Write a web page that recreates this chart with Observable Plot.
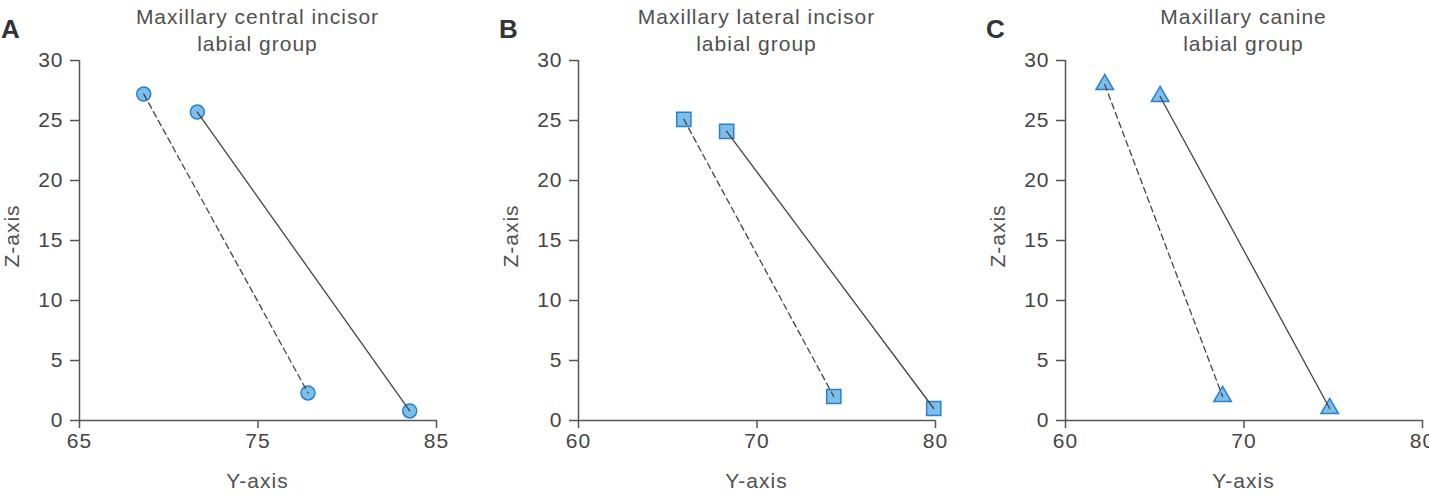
<!DOCTYPE html>
<html><head><meta charset="utf-8">
<script src="https://cdn.jsdelivr.net/npm/d3@7"></script>
<script src="https://cdn.jsdelivr.net/npm/@observablehq/plot@0.6"></script>
<style>
body{margin:0;width:1429px;height:495px;overflow:hidden;background:#fff;font-family:"Liberation Sans",Arial,sans-serif;}
#wrap{position:relative;width:1429px;height:495px;overflow:hidden;}
.panel{position:absolute;top:0;width:480px;height:495px;}
.panel svg{position:absolute;left:0;top:0;}
.panel svg text{letter-spacing:1px;}
.title{position:absolute;left:79px;width:357px;text-align:center;top:3px;font-size:21px;letter-spacing:1px;line-height:27px;color:#505050;}
.letter{position:absolute;top:14px;font-family:"Liberation Sans Narrow","Liberation Sans",Arial,sans-serif;font-weight:bold;font-size:26px;color:#333;}
.xlabel{position:absolute;left:79px;width:357px;text-align:center;top:469px;font-size:21px;letter-spacing:1px;color:#505050;}
.ylabel{position:absolute;left:-23px;top:224px;width:70px;text-align:center;font-size:21px;letter-spacing:1px;color:#505050;transform:rotate(-90deg);}
</style>
</head><body><div id="wrap"></div>
<script>
const panelLetters = ["A", "B", "C"];
const panelTitles = [["Maxillary central incisor", "labial group"], ["Maxillary lateral incisor", "labial group"], ["Maxillary canine", "labial group"]];
const xDomains = [[65, 85], [60, 80], [60, 80]];
const xTicks = [[65, 75, 85], [60, 70, 80], [60, 70, 80]];
const yTicks = [0, 5, 10, 15, 20, 25, 30];
const symbols = ["circle", "square", "triangle"];
const symbolR = [7, 8, 6.5];
const xLabel = "Y-axis";
const yLabel = "Z-axis";

const dashedY_A = [68.6, 77.8], dashedZ_A = [27.2, 2.3];
const solidY_A = [71.6, 83.5], solidZ_A = [25.7, 0.8];
const dashedY_B = [65.9, 74.3], dashedZ_B = [25.1, 2.0];
const solidY_B = [68.3, 79.9], solidZ_B = [24.1, 1.0];
const dashedY_C = [62.2, 68.8], dashedZ_C = [28.0, 2.0];
const solidY_C = [65.3, 74.8], solidZ_C = [27.0, 1.0];

const dashedY = [dashedY_A, dashedY_B, dashedY_C];
const dashedZ = [dashedZ_A, dashedZ_B, dashedZ_C];
const solidY = [solidY_A, solidY_B, solidY_C];
const solidZ = [solidZ_A, solidZ_B, solidZ_C];

const panelLefts = [0, 499, 986];
const axisColor = "#555";
const wrap = document.getElementById("wrap");

for (let i = 0; i < 3; i++) {
  const dashed = dashedY[i].map((y, j) => ({y, z: dashedZ[i][j]}));
  const solid = solidY[i].map((y, j) => ({y, z: solidZ[i][j]}));
  const div = document.createElement("div");
  div.className = "panel";
  div.style.left = panelLefts[i] + "px";
  const svg = Plot.plot({
    width: 480, height: 495,
    marginLeft: 79, marginRight: 44, marginTop: 60, marginBottom: 75,
    style: {fontFamily: '"Liberation Sans", Arial, sans-serif', fontSize: "21px", color: axisColor, background: "transparent", overflow: "visible"},
    x: {domain: xDomains[i]},
    y: {domain: [0, 30]},
    marks: [
      Plot.axisY({ticks: yTicks, tickSize: 9, tickPadding: 7, fontSize: 21, label: null, stroke: axisColor, strokeWidth: 1.5, fill: "#444"}),
      Plot.axisX({ticks: xTicks[i], tickSize: 8, tickPadding: 5, fontSize: 21, label: null, stroke: axisColor, strokeWidth: 1.5, fill: "#444"}),
      Plot.ruleX([xDomains[i][0]], {y1: 0, y2: 30, stroke: axisColor, strokeWidth: 1.5}),
      Plot.ruleY([0], {stroke: axisColor, strokeWidth: 1.5}),
      Plot.dot(dashed, {x: "y", y: "z", symbol: () => symbols[i], r: symbolR[i], fill: "#7cbfea", stroke: "#2a80cc", strokeWidth: 1.5}),
      Plot.dot(solid, {x: "y", y: "z", symbol: () => symbols[i], r: symbolR[i], fill: "#7cbfea", stroke: "#2a80cc", strokeWidth: 1.5}),
      Plot.line(dashed, {x: "y", y: "z", stroke: "#444", strokeWidth: 1.3, strokeDasharray: "6,4"}),
      Plot.line(solid, {x: "y", y: "z", stroke: "#444", strokeWidth: 1.3})
    ]
  });
  div.appendChild(svg);
  const t = document.createElement("div");
  t.className = "title";
  t.innerHTML = panelTitles[i].join("<br>");
  div.appendChild(t);
  const l = document.createElement("div");
  l.className = "letter";
  l.style.left = (i === 0 ? 1 : 0) + "px";
  l.textContent = panelLetters[i];
  div.appendChild(l);
  const xl = document.createElement("div");
  xl.className = "xlabel";
  xl.textContent = xLabel;
  div.appendChild(xl);
  const yl = document.createElement("div");
  yl.className = "ylabel";
  yl.textContent = yLabel;
  div.appendChild(yl);
  wrap.appendChild(div);
}
</script>
</body></html>
